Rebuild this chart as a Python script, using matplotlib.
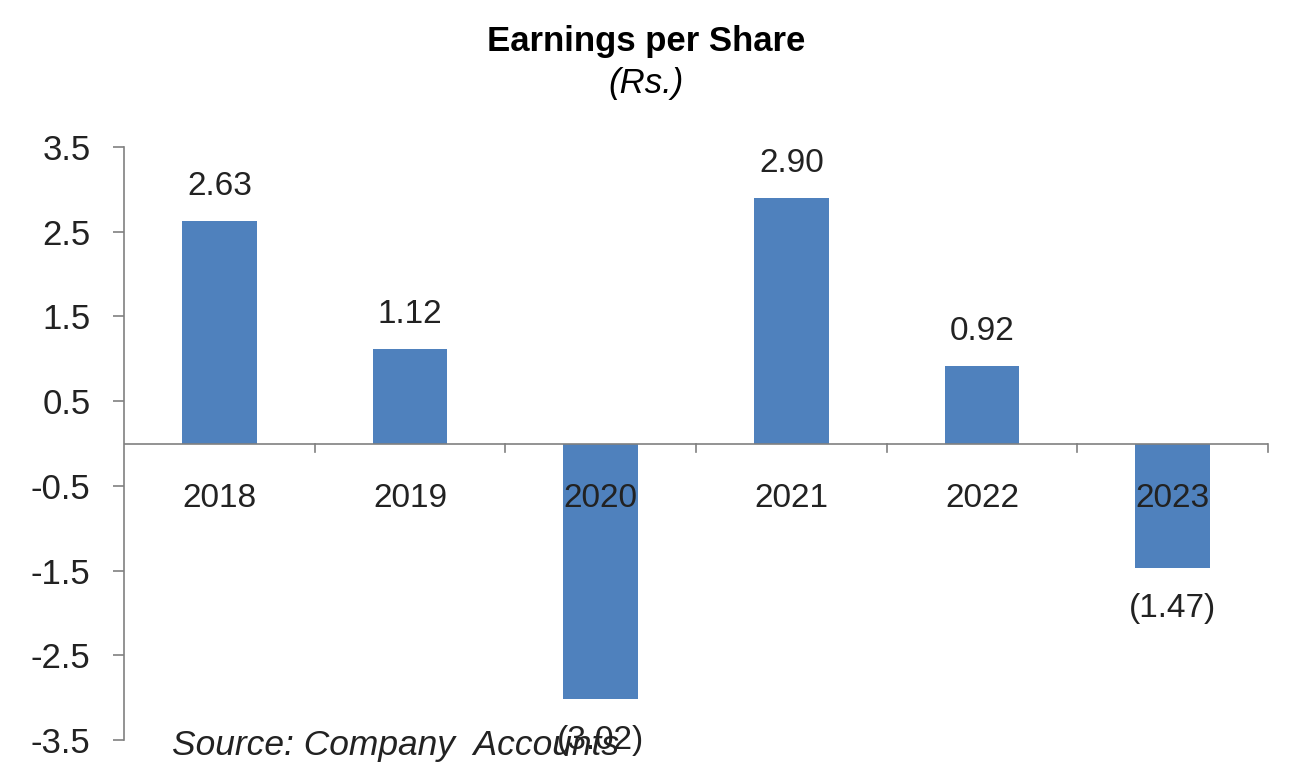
import matplotlib
matplotlib.use("Agg")
import matplotlib.pyplot as plt

years = ["2018", "2019", "2020", "2021", "2022", "2023"]
eps = [2.63, 1.12, -3.02, 2.90, 0.92, -1.47]
yticks = [3.5, 2.5, 1.5, 0.5, -0.5, -1.5, -2.5, -3.5]

plt.rcParams['font.family'] = ['Liberation Sans', 'DejaVu Sans']

fig = plt.figure(figsize=(12.92, 7.72), dpi=100)
ax = fig.add_axes([124/1292, 1-740/772, (1268-124)/1292, (740-147)/772])

x = list(range(len(years)))
ax.bar(x, eps, width=0.39, color="#4F81BD", zorder=2)
ax.set_xlim(-0.5, len(years) - 0.5)
ax.set_ylim(-3.5, 3.5)
ax.set_yticks(yticks)
ax.set_yticklabels([f"{v:.1f}" for v in yticks], fontsize=25, color="#222222")
ax.tick_params(axis='y', direction='out', length=8, color='#808080', width=1.2, pad=16)

for s in ['top', 'right', 'bottom']:
    ax.spines[s].set_visible(False)
ax.spines['left'].set_color('#808080')
ax.spines['left'].set_linewidth(1.2)
ax.axhline(0, color='#808080', lw=1.2, zorder=3)

# category separators on zero line
ax.set_xticks([])
for b in [i + 0.5 for i in range(len(years))]:
    ax.plot([b, b], [0, -0.1], color='#808080', lw=1.2, zorder=3, clip_on=False)

for i, y in enumerate(years):
    ax.text(i, -0.47, y, ha='center', va='top', fontsize=24, color='#222222', zorder=4)

for i, v in enumerate(eps):
    if v >= 0:
        ax.text(i, v + 0.22, f"{v:.2f}", ha='center', va='bottom', fontsize=24, color='#222222')
    else:
        ax.text(i, v - 0.3, f"({abs(v):.2f})", ha='center', va='top', fontsize=24, color='#222222')

fig.text(0.5, 1-42/772, "Earnings per Share", ha='center', va='center', fontsize=25, fontweight='bold')
fig.text(0.5, 1-83/772, "(Rs.)", ha='center', va='center', fontsize=25, fontstyle='italic')
fig.text(172/1292, 1-746/772, "Source: Company  Accounts", ha='left', va='center', fontsize=25.5, fontstyle='italic', color='#222222')

fig.savefig("out.png", dpi=100, facecolor='white')
